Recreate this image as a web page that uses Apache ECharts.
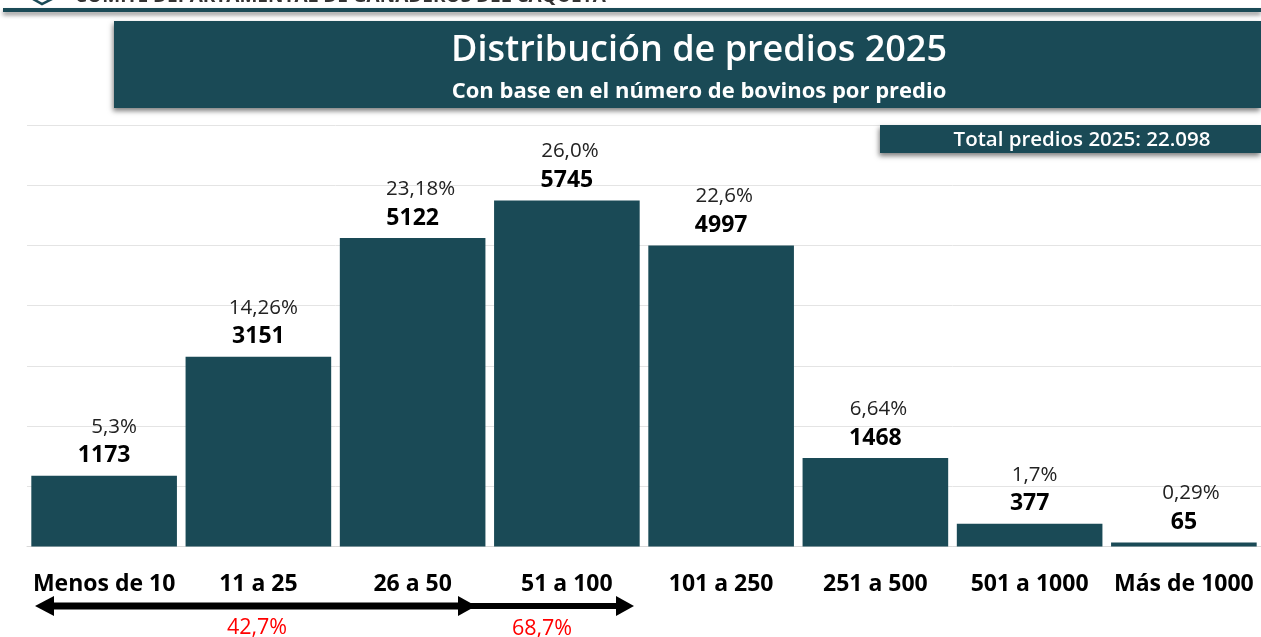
<!DOCTYPE html>
<html><head><meta charset="utf-8">
<style>html,body{margin:0;padding:0;background:#fff}#c{width:1261px;height:637px}</style>
<script src="https://cdn.jsdelivr.net/npm/echarts@6/dist/echarts.min.js"></script>
</head><body><div id="c"></div>
<script>
const categories = ['Menos de 10','11 a 25','26 a 50','51 a 100','101 a 250','251 a 500','501 a 1000','Más de 1000'];
const predios = [1173,3151,5122,5745,4997,1468,377,65];
const porcentajes = ['5,3%','14,26%','23,18%','26,0%','22,6%','6,64%','1,7%','0,29%'];
const DARK = '#1a4a56';
const FONT = '"Open Sans","Noto Sans",sans-serif';
const chart = echarts.init(document.getElementById('c'),null,{renderer:'canvas'});
const shadow = {shadowBlur:5,shadowOffsetX:-1,shadowOffsetY:3,shadowColor:'rgba(0,0,0,0.5)'};
// desplazamiento horizontal de cada etiqueta de porcentaje respecto a su barra
const pctShift = [10,5,8,3,3,3,5,7];
const rich = {v:{fontFamily:FONT,fontSize:23,fontWeight:'bold',color:'#000',lineHeight:28,align:'center'}};
pctShift.forEach((d,i)=>{ rich['p'+i] = {fontFamily:FONT,fontSize:20.5,color:'#222',lineHeight:30,align:'center',padding:[0,0,0,2*d]}; });
function txt(x,y,text,size,weight,color,align){
  return {type:'text',x,y,z:20,style:{text,font:`${weight} ${size}px ${FONT}`,fill:color,align:align||'center',verticalAlign:'middle'}};
}
function bar(x1,x2,y,h){ return {type:'rect',z:15,shape:{x:x1,y:y-h/2,width:x2-x1,height:h},style:{fill:'#000'}}; }
function headR(tip,y){ return {type:'polygon',z:16,shape:{points:[[tip,y],[tip-18,y-10],[tip-18,y+10]]},style:{fill:'#000'}}; }
function headL(tip,y){ return {type:'polygon',z:16,shape:{points:[[tip,y],[tip+19,y-10],[tip+19,y+10]]},style:{fill:'#000'}}; }
chart.setOption({
  animation:false,
  backgroundColor:'#fff',
  grid:{left:27,top:125,width:1235,height:421.5},
  xAxis:{type:'category',data:categories,
    axisLine:{lineStyle:{color:'#d9d9d9',width:1}},axisTick:{show:false},
    axisLabel:{color:'#000',fontFamily:FONT,fontWeight:'bold',fontSize:23,margin:26,interval:0}},
  yAxis:{type:'value',min:0,max:7000,interval:1000,
    axisLine:{show:false},axisTick:{show:false},axisLabel:{show:false},
    splitLine:{lineStyle:{color:'#e4e4e4',width:1}}},
  series:[{type:'bar',data:predios,barCategoryGap:'5.6%',itemStyle:{color:DARK},
    label:{show:true,position:'top',distance:6,
      formatter:p=>`{p${p.dataIndex}|${porcentajes[p.dataIndex]}}\n{v|${p.value}}`,
      rich}}],
  graphic:[
    {type:'rect',z:10,shape:{x:3,y:8,width:1258,height:4},style:{fill:DARK,shadowBlur:4,shadowOffsetY:3,shadowColor:'rgba(0,0,0,0.45)'}},
    {type:'polygon',z:10,shape:{points:[[33,-6],[42,-10],[52,-6],[52,-1],[42,4],[33,-1]]},style:{fill:'#fff',stroke:DARK,lineWidth:2.5}},
    txt(75,-3.5,'COMITÉ DEPARTAMENTAL DE GANADEROS DEL CAQUETÁ',19,'bold','#333','left'),
    {type:'rect',z:10,shape:{x:114,y:21,width:1147,height:87},style:{fill:DARK,...shadow}},
    txt(699,51,'Distribución de predios 2025',36,'600','#fff'),
    txt(699,92,'Con base en el número de bovinos por predio',22,'bold','#fff'),
    {type:'rect',z:10,shape:{x:880,y:125,width:381,height:28},style:{fill:DARK,...shadow}},
    txt(1082,140,'Total predios 2025: 22.098',20.5,'600','#fff'),
    bar(50,462,606,7), headL(35,606), headR(476,606),
    bar(470,618,606,6), headR(634,606),
    txt(257,628,'42,7%',21.5,'normal','#ff0000'),
    txt(542,629,'68,7%',21.5,'normal','#ff0000')
  ]
});
</script></body></html>
